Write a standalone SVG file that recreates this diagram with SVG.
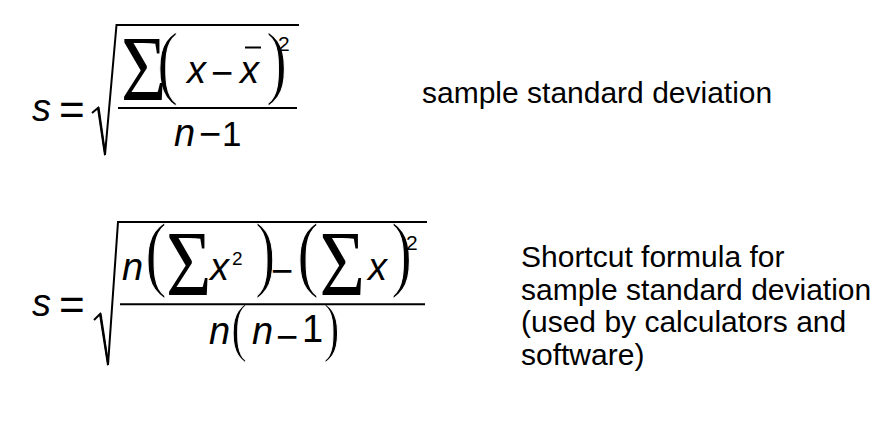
<svg xmlns="http://www.w3.org/2000/svg" width="882" height="426" viewBox="0 0 882 426">
<style>
.v{font-family:"Liberation Sans",Arial,sans-serif;font-style:italic;font-size:38px;fill:#000}
.u{font-family:"Liberation Sans",Arial,sans-serif;font-size:38px;fill:#000}
.eq{font-family:"Liberation Sans",Arial,sans-serif;font-size:44px;fill:#000}
.sup{font-family:"Liberation Sans",Arial,sans-serif;font-size:21px;fill:#000}
.p{font-family:"Liberation Serif","Times New Roman",serif;font-size:44px;fill:#000;stroke:#fff;stroke-width:0.7}
.sg{font-family:"Liberation Serif","Times New Roman",serif;font-size:78px;fill:#000}
.t{font-family:"Liberation Sans",Arial,sans-serif;font-size:30px;fill:#000}
.ln{stroke:#000;stroke-width:2;fill:none}
.rad{stroke:#000;stroke-width:2;fill:none;stroke-linejoin:miter}
</style>
<rect width="882" height="426" fill="#fff"/>

<g id="formula1">
  <text class="v" x="32" y="121">s</text>
  <text class="eq" x="59" y="125">=</text>
  <text class="p" transform="translate(157,89.3) scale(1.45,1.89)">(</text>
  <text class="sg" transform="translate(121,100) scale(1,1.19)">Σ</text>
  <text class="v" x="187" y="83">x</text>
  <text class="u" x="211" y="86">−</text>
  <text class="v" x="240" y="83">x</text>
  <line x1="245" y1="47.5" x2="261" y2="47.5" stroke="#000" stroke-width="2"/>
  <text class="p" transform="translate(266,89.3) scale(1.45,1.89)">)</text>
  <text class="sup" x="278" y="51">2</text>
  <text class="v" x="174" y="146">n</text>
  <text class="u" x="199" y="147">−</text>
  <text class="u" x="222" y="146" style="font-size:35px">1</text>
  <path class="rad" d="M92,113 L98,108 L105,155 L116.5,25 L299,25"/>
  <path d="M97.5,108 L99.5,107 L106,153 L104.5,156 Z" fill="#000"/>
  <line class="ln" x1="118" y1="108" x2="297" y2="108"/>
</g>

<g id="formula2">
  <text class="v" x="32" y="316">s</text>
  <text class="eq" x="59" y="320">=</text>
  <text class="v" x="122" y="280">n</text>
  <text class="p" transform="translate(145,281.1) scale(1.5,1.94)">(</text>
  <text class="sg" transform="translate(166,295) scale(1,1.19)">Σ</text>
  <text class="v" x="210" y="280">x</text>
  <text class="sup" x="232" y="265" style="font-size:19px">2</text>
  <text class="p" transform="translate(255,281.1) scale(1.4,1.94)">)</text>
  <text class="u" x="271" y="284">−</text>
  <text class="p" transform="translate(297,281.1) scale(1.5,1.94)">(</text>
  <text class="sg" transform="translate(319.5,295) scale(1,1.19)">Σ</text>
  <text class="v" x="368" y="280">x</text>
  <text class="p" transform="translate(391,281.1) scale(1.45,1.94)">)</text>
  <text class="sup" x="406" y="250">2</text>
  <text class="v" x="209" y="344">n</text>
  <text class="p" transform="translate(231,348.7) scale(1.35,1.8)" style="font-size:36px">(</text>
  <text class="v" x="252" y="344">n</text>
  <text class="u" x="276" y="350">−</text>
  <text class="u" x="302" y="342">1</text>
  <text class="p" transform="translate(323.5,348.7) scale(1.35,1.8)" style="font-size:36px">)</text>
  <path class="rad" d="M94,320 L100,314 L108,365 L118,222 L427,222"/>
  <path d="M99.5,314 L101.5,313 L109,363 L107.5,366 Z" fill="#000"/>
  <line class="ln" x1="120" y1="304.3" x2="425" y2="304.3"/>
</g>

<g id="labels">
  <text class="t" x="422" y="103">sample standard deviation</text>
  <text class="t" x="521" y="267">Shortcut formula for</text>
  <text class="t" x="521" y="299.5">sample standard deviation</text>
  <text class="t" x="521" y="332">(used by calculators and</text>
  <text class="t" x="521" y="364.5">software)</text>
</g>
</svg>
